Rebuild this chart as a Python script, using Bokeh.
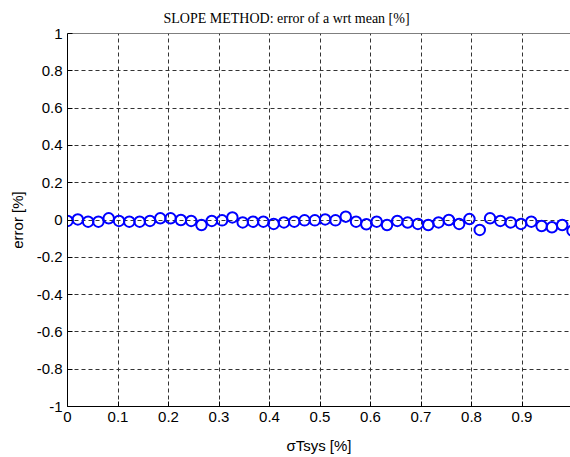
import math
from bokeh.plotting import figure
from bokeh.models import LinearAxis, FixedTicker, Range1d, Grid, Span
from bokeh.embed import file_html
from bokeh.resources import INLINE

# ---- data ----
sigma_tsys = [0.0, 0.0204, 0.0408, 0.0612, 0.0816, 0.102, 0.1224, 0.1429, 0.1633, 0.1837,
              0.2041, 0.2245, 0.2449, 0.2653, 0.2857, 0.3061, 0.3265, 0.3469, 0.3673, 0.3878,
              0.4082, 0.4286, 0.449, 0.4694, 0.4898, 0.5102, 0.5306, 0.551, 0.5714, 0.5918,
              0.6122, 0.6327, 0.6531, 0.6735, 0.6939, 0.7143, 0.7347, 0.7551, 0.7755, 0.7959,
              0.8163, 0.8367, 0.8571, 0.8776, 0.898, 0.9184, 0.9388, 0.9592, 0.9796, 1.0]
error_pct = [-0.005, 0.003, -0.009, -0.009, 0.009, -0.005, -0.009, -0.009, -0.005, 0.009,
             0.009, 0.0, -0.005, -0.027, -0.005, -0.002, 0.014, -0.013, -0.009, -0.009,
             -0.021, -0.013, -0.009, -0.002, -0.002, 0.003, -0.002, 0.018, -0.009, -0.023,
             -0.009, -0.027, -0.005, -0.014, -0.021, -0.027, -0.013, 0.0, -0.021, 0.005,
             -0.053, 0.009, -0.005, -0.013, -0.021, -0.009, -0.032, -0.039, -0.027, -0.057]

x_ticks = [0.0, 0.1, 0.2, 0.3, 0.4, 0.5, 0.6, 0.7, 0.8, 0.9]
x_tick_labels = ["0", "0.1", "0.2", "0.3", "0.4", "0.5", "0.6", "0.7", "0.8", "0.9"]
y_ticks = [-1.0, -0.8, -0.6, -0.4, -0.2, 0.0, 0.2, 0.4, 0.6, 0.8, 1.0]
y_tick_labels = ["-1", "-0.8", "-0.6", "-0.4", "-0.2", "0", "0.2", "0.4", "0.6", "0.8", "1"]

title_text = "SLOPE METHOD: error of a wrt mean [%]"
x_label = "σTsys [%]"
y_label = "error [%]"

X_MAX = 0.996
FONT = "Liberation Sans"
SERIF = "Liberation Serif"

p = figure(width=570, height=457, output_backend="svg", toolbar_location=None,
           x_range=Range1d(0, X_MAX), y_range=Range1d(-1, 1),
           min_border_left=67, min_border_right=0, min_border_top=31, min_border_bottom=51,
           x_axis_type=None, y_axis_type=None)
p.outline_line_color = None

p.title.text = title_text
p.title.text_font = SERIF
p.title.text_font_size = "14px"
p.title.text_font_style = "normal"
p.title.text_color = "black"
p.title.align = "left"
p.title.offset = 96
p.title.standoff = 16

xt = FixedTicker(ticks=x_ticks)
yt = FixedTicker(ticks=y_ticks)

def style_axis(ax):
    ax.axis_line_color = "black"
    ax.axis_line_width = 1
    ax.major_tick_in = 5
    ax.major_tick_out = 0
    ax.major_tick_line_color = "black"
    ax.minor_tick_line_color = None
    ax.major_label_text_font = FONT
    ax.major_label_text_font_size = "15px"
    ax.major_label_text_color = "black"
    ax.major_label_standoff = 5
    ax.axis_label_text_font = FONT
    ax.axis_label_text_font_size = "15px"
    ax.axis_label_text_font_style = "normal"
    ax.axis_label_text_color = "black"

bottom = LinearAxis(ticker=xt, major_label_overrides={t: s for t, s in zip(x_ticks, x_tick_labels)},
                    axis_label=x_label)
style_axis(bottom)
bottom.axis_label_standoff = 12
p.add_layout(bottom, "below")

left = LinearAxis(ticker=yt, major_label_overrides={t: s for t, s in zip(y_ticks, y_tick_labels)},
                  axis_label=y_label)
style_axis(left)
left.axis_label_standoff = 8
p.add_layout(left, "left")

# top border of the box
p.add_layout(Span(location=1.0, dimension="width", line_color="black", line_width=1))

p.add_layout(Grid(dimension=0, ticker=xt, grid_line_color="#333333", grid_line_dash="4 3",
                  grid_line_width=1))
p.add_layout(Grid(dimension=1, ticker=yt, grid_line_color="#333333", grid_line_dash="4 3",
                  grid_line_width=1))

p.scatter(sigma_tsys, error_pct, marker="circle", size=10.5, line_color="#0000FF",
          line_width=2, fill_color=None)

open("out.html", "w").write(file_html(p, INLINE))
